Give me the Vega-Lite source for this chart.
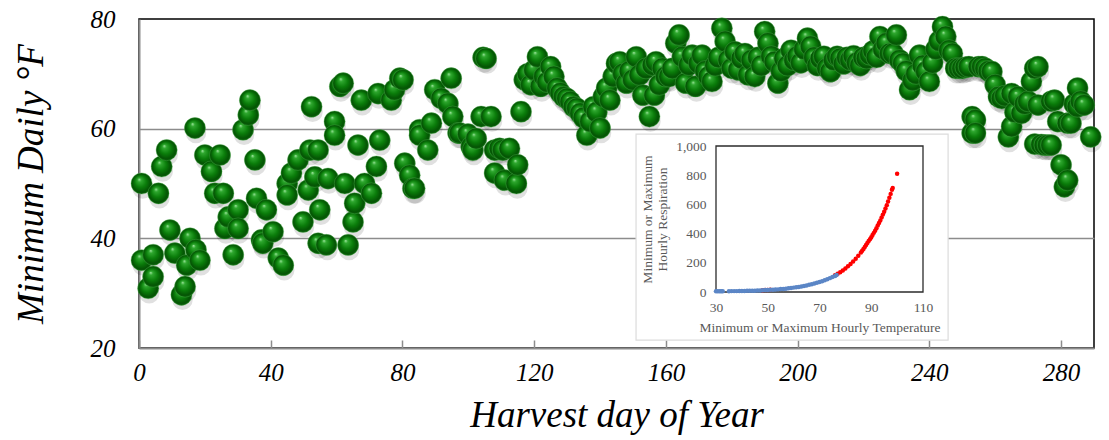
{
  "$schema": "https://vega.github.io/schema/vega-lite/v6.json",
  "width": 955,
  "height": 329,
  "autosize": "none",
  "padding": {"left": 139, "top": 19, "right": 15, "bottom": 92},
  "background": "white",
  "config": {"view": {"stroke": "#000000", "strokeWidth": 1.5}, "font": "Liberation Serif"},
  "datasets": {
    "main": [
      {"day":0.8,"temp":50},{"day":0.8,"temp":36},{"day":2.8,"temp":30.9},{"day":4.3,"temp":37},{"day":4.3,"temp":33},{"day":5.9,"temp":48.2},{"day":6.9,"temp":53.1},{"day":8.4,"temp":56.1},{"day":9.4,"temp":41.5},{"day":10.9,"temp":37.3},{"day":12.9,"temp":29.7},{"day":14,"temp":31.2},{"day":14.5,"temp":35.1},{"day":15.5,"temp":40},{"day":17,"temp":60.1},{"day":17.3,"temp":37.9},{"day":18.5,"temp":36},{"day":20,"temp":55.2},{"day":22,"temp":52.2},{"day":23,"temp":48.2},{"day":24.6,"temp":55.2},{"day":25.6,"temp":48.2},{"day":26.1,"temp":41.8},{"day":27.1,"temp":43.9},{"day":28.6,"temp":37},{"day":30.1,"temp":45.2},{"day":30.1,"temp":41.8},{"day":31.6,"temp":59.8},{"day":33.2,"temp":62.5},{"day":33.7,"temp":65.2},{"day":35.2,"temp":54.3},{"day":35.7,"temp":47.3},{"day":37.2,"temp":39.7},{"day":37.6,"temp":39.1},{"day":38.7,"temp":45.2},{"day":40.7,"temp":41.2},{"day":42.3,"temp":36.4},{"day":43.8,"temp":35.1},{"day":45,"temp":50},{"day":45,"temp":47.9},{"day":46.3,"temp":51.9},{"day":48.3,"temp":54.3},{"day":49.8,"temp":43},{"day":51.4,"temp":48.8},{"day":51.9,"temp":56.1},{"day":52.4,"temp":64},{"day":53.4,"temp":51.2},{"day":54.4,"temp":56.1},{"day":54.4,"temp":39.1},{"day":54.9,"temp":45.2},{"day":56.9,"temp":38.8},{"day":57.4,"temp":50.9},{"day":59.4,"temp":61.3},{"day":59.4,"temp":58.8},{"day":61,"temp":67.7},{"day":62,"temp":68.3},{"day":62.5,"temp":50},{"day":63.5,"temp":38.8},{"day":65,"temp":43},{"day":65.5,"temp":46.4},{"day":66.5,"temp":57},{"day":67.5,"temp":65.2},{"day":68.5,"temp":50},{"day":70.6,"temp":48.2},{"day":72.1,"temp":53.1},{"day":72.6,"temp":66.4},{"day":73.1,"temp":57.9},{"day":76.6,"temp":65.2},{"day":77.6,"temp":67.1},{"day":79.2,"temp":69.2},{"day":80.2,"temp":68.9},{"day":80.7,"temp":53.7},{"day":82.2,"temp":51.5},{"day":83.2,"temp":49.1},{"day":83.7,"temp":49.1},{"day":85.2,"temp":59.8},{"day":85.2,"temp":58.8},{"day":87.7,"temp":56.1},{"day":88.8,"temp":61},{"day":89.8,"temp":67.1},{"day":91.8,"temp":65.5},{"day":93.8,"temp":64.6},{"day":94.8,"temp":69.2},{"day":95.3,"temp":62.2},{"day":96.9,"temp":59.2},{"day":97.4,"temp":59.2},{"day":99.9,"temp":59},{"day":100.9,"temp":56.7},{"day":101.4,"temp":56.1},{"day":102.4,"temp":58.2},{"day":103.9,"temp":62.2},{"day":104.5,"temp":73},{"day":105.4,"temp":72.8},{"day":106.9,"temp":62.2},{"day":108,"temp":56.1},{"day":108,"temp":51.9},{"day":109.5,"temp":56.4},{"day":110.5,"temp":56.1},{"day":111,"temp":50.6},{"day":112.5,"temp":56.4},{"day":114.6,"temp":50},{"day":115,"temp":53.4},
      {"day":116,"temp":63.1},{"day":117,"temp":68.9},{"day":118,"temp":70},{"day":119,"temp":68},{"day":120,"temp":70.7},{"day":121,"temp":73.1},{"day":122,"temp":67.7},{"day":123,"temp":69.5},{"day":124,"temp":68.5},{"day":125,"temp":71.3},{"day":126,"temp":69.5},{"day":127,"temp":67.4},{"day":128,"temp":66.5},{"day":129,"temp":65.8},{"day":130,"temp":65.5},{"day":131,"temp":64.9},{"day":132,"temp":64},{"day":133,"temp":63.7},{"day":134,"temp":62.8},{"day":135,"temp":62},{"day":136,"temp":58.8},{"day":137,"temp":61.3},{"day":138,"temp":64},{"day":139,"temp":63},{"day":140,"temp":60.1},{"day":141,"temp":65.8},{"day":142,"temp":67.4},{"day":143,"temp":65.2},
      {"day":144,"temp":69.5},{"day":145,"temp":71.9},{"day":146,"temp":72.2},{"day":147,"temp":70},{"day":148,"temp":68.3},{"day":149,"temp":70.5},{"day":150,"temp":68.9},{"day":151,"temp":73.1},{"day":152,"temp":69.8},{"day":153,"temp":66.1},{"day":154,"temp":71},{"day":155,"temp":62.2},{"day":156,"temp":71.6},{"day":156.5,"temp":66.1},{"day":157,"temp":72.2},{"day":158,"temp":68},{"day":159,"temp":71},{"day":160,"temp":69.5},{"day":161,"temp":69.5},{"day":162,"temp":71},{"day":163,"temp":75.6},{"day":164,"temp":77.1},{"day":165,"temp":73.1},{"day":166,"temp":68.3},{"day":167,"temp":71.6},{"day":168,"temp":73.4},{"day":169,"temp":67.7},
      {"day":170,"temp":71.9},{"day":171,"temp":73.4},{"day":172,"temp":70.5},{"day":173,"temp":69.5},{"day":174,"temp":68.6},{"day":175,"temp":71.5},{"day":176,"temp":73},{"day":177,"temp":78.3},{"day":178,"temp":75.9},{"day":179,"temp":72.5},{"day":180,"temp":71},{"day":181,"temp":74},{"day":182,"temp":70.7},{"day":183,"temp":72.8},{"day":184,"temp":73.7},{"day":185,"temp":69.8},{"day":186,"temp":72.5},{"day":187,"temp":69.5},{"day":188,"temp":73},{"day":189,"temp":71.5},{"day":190,"temp":77.7},{"day":191,"temp":75.6},{"day":192,"temp":73.2},{"day":193,"temp":72.2},{"day":194,"temp":68.3},{"day":195,"temp":70.5},{"day":196,"temp":72.8},{"day":197,"temp":71.5},{"day":198,"temp":74.3},{"day":199,"temp":72.5},{"day":200,"temp":73.2},{"day":201,"temp":72},{"day":202,"temp":74.5},{"day":203,"temp":76.5},{"day":204,"temp":75},{"day":205,"temp":73},{"day":206,"temp":71.5},{"day":207,"temp":72.8},{"day":208,"temp":73.2},{"day":209,"temp":71},{"day":210,"temp":70.4},{"day":211,"temp":72.5},{"day":212,"temp":73.2},{"day":213,"temp":72.8},{"day":214,"temp":71.8},{"day":215,"temp":73},{"day":216,"temp":72.5},{"day":217,"temp":73.3},{"day":218,"temp":72},{"day":219,"temp":71.5},{"day":220,"temp":73},{"day":221,"temp":72.8},{"day":222,"temp":73.5},{"day":223,"temp":74.2},{"day":224,"temp":73},{"day":225,"temp":76.8},{"day":226,"temp":74.5},{"day":227,"temp":75.6},{"day":228,"temp":73.7},{"day":229,"temp":73.7},{"day":230,"temp":77.1},{"day":231,"temp":72.5},{"day":232,"temp":71.9},{"day":233,"temp":70.5},{"day":234,"temp":67.1},{"day":235,"temp":68.8},{"day":236,"temp":70},{"day":237,"temp":73.4},{"day":238,"temp":71.5},{"day":239,"temp":70.4},{"day":240,"temp":68.6},{"day":241,"temp":72},{"day":242,"temp":74.5},{"day":243,"temp":76},{"day":244,"temp":78.6},{"day":245,"temp":76.8},{"day":246,"temp":74.3},{"day":247,"temp":73.7},{"day":248,"temp":71},{"day":249,"temp":71},{"day":250,"temp":71},{"day":251,"temp":71.2},{"day":252,"temp":71.3},
      {"day":253,"temp":62.2},{"day":253,"temp":59.2},{"day":254,"temp":61.6},{"day":254,"temp":59.2},{"day":255,"temp":71.3},{"day":256,"temp":71.3},{"day":257,"temp":71},{"day":258,"temp":70.5},{"day":259,"temp":70.4},{"day":260,"temp":68},{"day":261,"temp":65.8},{"day":262,"temp":65.5},{"day":263,"temp":66},{"day":264,"temp":58.5},{"day":265,"temp":60.4},{"day":265,"temp":66.4},{"day":266,"temp":63},{"day":267,"temp":65.8},{"day":268,"temp":62.8},{"day":269,"temp":64.5},{"day":270,"temp":65},{"day":271,"temp":68.6},{"day":272,"temp":71},{"day":272,"temp":57.2},{"day":273,"temp":64.3},{"day":273,"temp":71.3},{"day":274,"temp":57.1},{"day":275,"temp":57},{"day":276,"temp":57},{"day":277,"temp":57},{"day":277,"temp":65},{"day":278,"temp":65.2},{"day":279,"temp":61.3},{"day":280,"temp":53.4},{"day":281,"temp":49.4},{"day":282,"temp":50.6},{"day":282,"temp":61},{"day":283,"temp":61},{"day":284,"temp":64.5},{"day":285,"temp":67.4},{"day":285,"temp":64},{"day":286,"temp":65},{"day":287,"temp":64.3},{"day":289,"temp":58.5}
    ],
    "resp": [
      {"temp":48,"resp":12,"kind":"max"},{"temp":49,"resp":13,"kind":"max"},{"temp":50,"resp":14,"kind":"max"},{"temp":51,"resp":15,"kind":"max"},
      {"temp":76,"resp":115,"kind":"max"},{"temp":77,"resp":125,"kind":"max"},{"temp":78,"resp":136,"kind":"max"},{"temp":79,"resp":148,"kind":"max"},{"temp":80,"resp":161,"kind":"max"},{"temp":81,"resp":176,"kind":"max"},{"temp":82,"resp":192,"kind":"max"},{"temp":83,"resp":209,"kind":"max"},{"temp":84,"resp":228,"kind":"max"},{"temp":85,"resp":249,"kind":"max"},{"temp":86,"resp":270,"kind":"max"},{"temp":86.5,"resp":282,"kind":"max"},{"temp":87,"resp":295,"kind":"max"},{"temp":87.5,"resp":308,"kind":"max"},{"temp":88,"resp":322,"kind":"max"},{"temp":88.5,"resp":336,"kind":"max"},{"temp":89,"resp":350,"kind":"max"},{"temp":89.5,"resp":362,"kind":"max"},{"temp":90,"resp":375,"kind":"max"},{"temp":90.5,"resp":390,"kind":"max"},{"temp":91,"resp":405,"kind":"max"},{"temp":91.5,"resp":420,"kind":"max"},{"temp":92,"resp":437,"kind":"max"},{"temp":92.5,"resp":455,"kind":"max"},{"temp":93,"resp":472,"kind":"max"},{"temp":93.5,"resp":490,"kind":"max"},{"temp":94,"resp":510,"kind":"max"},{"temp":94.5,"resp":530,"kind":"max"},{"temp":95,"resp":550,"kind":"max"},{"temp":95.5,"resp":572,"kind":"max"},{"temp":96,"resp":595,"kind":"max"},{"temp":96.5,"resp":620,"kind":"max"},{"temp":97,"resp":645,"kind":"max"},{"temp":97.5,"resp":672,"kind":"max"},{"temp":98,"resp":700,"kind":"max"},{"temp":98.3,"resp":712,"kind":"max"},{"temp":100,"resp":810,"kind":"max"},
      {"temp":30,"resp":5,"kind":"min"},{"temp":30.7,"resp":5,"kind":"min"},{"temp":31.4,"resp":5,"kind":"min"},{"temp":32,"resp":5,"kind":"min"},{"temp":32.6,"resp":5,"kind":"min"},{"temp":35,"resp":5,"kind":"min"},{"temp":36,"resp":6,"kind":"min"},{"temp":37,"resp":6,"kind":"min"},{"temp":38,"resp":6,"kind":"min"},{"temp":39,"resp":7,"kind":"min"},{"temp":40,"resp":7,"kind":"min"},{"temp":41,"resp":7,"kind":"min"},{"temp":42,"resp":8,"kind":"min"},{"temp":43,"resp":8,"kind":"min"},{"temp":44,"resp":9,"kind":"min"},{"temp":45,"resp":9,"kind":"min"},{"temp":46,"resp":10,"kind":"min"},{"temp":47,"resp":11,"kind":"min"},{"temp":48,"resp":12,"kind":"min"},{"temp":49,"resp":13,"kind":"min"},{"temp":50,"resp":14,"kind":"min"},{"temp":51,"resp":15,"kind":"min"},{"temp":52,"resp":16,"kind":"min"},{"temp":53,"resp":17,"kind":"min"},{"temp":54,"resp":18,"kind":"min"},{"temp":55,"resp":20,"kind":"min"},{"temp":56,"resp":21,"kind":"min"},{"temp":57,"resp":23,"kind":"min"},{"temp":58,"resp":25,"kind":"min"},{"temp":59,"resp":27,"kind":"min"},{"temp":60,"resp":30,"kind":"min"},{"temp":61,"resp":32,"kind":"min"},{"temp":62,"resp":35,"kind":"min"},{"temp":63,"resp":38,"kind":"min"},{"temp":64,"resp":41,"kind":"min"},{"temp":65,"resp":45,"kind":"min"},{"temp":66,"resp":49,"kind":"min"},{"temp":67,"resp":53,"kind":"min"},{"temp":68,"resp":58,"kind":"min"},{"temp":69,"resp":63,"kind":"min"},{"temp":70,"resp":68,"kind":"min"},{"temp":71,"resp":74,"kind":"min"},{"temp":72,"resp":80,"kind":"min"},{"temp":73,"resp":87,"kind":"min"},{"temp":74,"resp":95,"kind":"min"},{"temp":75,"resp":103,"kind":"min"},{"temp":76,"resp":110,"kind":"min"},{"temp":76.6,"resp":116,"kind":"min"}
    ]
  },
  "layer": [
    {
      "data": {"name": "main"},
      "layer": [
        {
          "mark": {"type": "circle", "size": 420, "fill": "#000000", "opacity": 0.12, "yOffset": 5, "xOffset": 1},
          "encoding": {
            "x": {"field": "day", "type": "quantitative", "scale": {"domain": [0, 290], "nice": false, "zero": false},
                  "axis": {"title": "Harvest day of Year", "values": [0, 40, 80, 120, 160, 200, 240, 280], "grid": false, "domainColor": "#8c8c8c", "domainWidth": 2, "tickColor": "#8c8c8c", "tickWidth": 1.5, "tickSize": -8, "labelFlush": false, "labelOverlap": false, "labelPadding": 20, "labelFontSize": 25, "labelFontStyle": "italic", "labelColor": "#000000", "titleFontSize": 37, "titleFontStyle": "italic", "titleFontWeight": "normal", "titleColor": "#000000", "titlePadding": 12}},
            "y": {"field": "temp", "type": "quantitative", "scale": {"domain": [20, 80], "nice": false, "zero": false},
                  "axis": {"title": "Minimum Daily °F", "values": [20, 40, 60, 80], "grid": true, "gridColor": "#8c8c8c", "gridWidth": 1.5, "gridOpacity": {"condition": {"test": "datum.value == 20 || datum.value == 80", "value": 0}, "value": 1}, "ticks": false, "domainColor": "#8c8c8c", "domainWidth": 2, "labelPadding": 24, "labelFontSize": 25, "labelFontStyle": "italic", "labelColor": "#000000", "titleFontSize": 37, "titleFontStyle": "italic", "titleFontWeight": "normal", "titleColor": "#000000", "titlePadding": 40}}
          }
        },
        {
          "mark": {"type": "circle", "size": 450, "opacity": 1, "stroke": "#4fae4f", "strokeWidth": 0.6, "strokeOpacity": 0.6,
                   "fill": {"gradient": "radial", "x1": 0.38, "y1": 0.3, "r1": 0, "x2": 0.5, "y2": 0.5, "r2": 0.5,
                            "stops": [{"offset": 0, "color": "#a6eba6"}, {"offset": 0.18, "color": "#2fa82f"}, {"offset": 0.55, "color": "#0a7d0a"}, {"offset": 0.88, "color": "#045204"}, {"offset": 1, "color": "#0e6a0e"}]}},
          "encoding": {
            "x": {"field": "day", "type": "quantitative", "scale": {"domain": [0, 290], "nice": false, "zero": false},
                  "axis": {"title": "Harvest day of Year", "values": [0, 40, 80, 120, 160, 200, 240, 280], "grid": false, "domainColor": "#8c8c8c", "domainWidth": 2, "tickColor": "#8c8c8c", "tickWidth": 1.5, "tickSize": -8, "labelFlush": false, "labelOverlap": false, "labelPadding": 20, "labelFontSize": 25, "labelFontStyle": "italic", "labelColor": "#000000", "titleFontSize": 37, "titleFontStyle": "italic", "titleFontWeight": "normal", "titleColor": "#000000", "titlePadding": 12}},
            "y": {"field": "temp", "type": "quantitative", "scale": {"domain": [20, 80], "nice": false, "zero": false},
                  "axis": {"title": "Minimum Daily °F", "values": [20, 40, 60, 80], "grid": true, "gridColor": "#8c8c8c", "gridWidth": 1.5, "gridOpacity": {"condition": {"test": "datum.value == 20 || datum.value == 80", "value": 0}, "value": 1}, "ticks": false, "domainColor": "#8c8c8c", "domainWidth": 2, "labelPadding": 24, "labelFontSize": 25, "labelFontStyle": "italic", "labelColor": "#000000", "titleFontSize": 37, "titleFontStyle": "italic", "titleFontWeight": "normal", "titleColor": "#000000", "titlePadding": 40}}
          }
        }
      ]
    },
    {
      "layer": [
        {
          "data": {"values": [{}]},
          "mark": {"type": "rect", "fill": "#ffffff", "stroke": "#dcdcdc", "strokeWidth": 1.2, "clip": false},
          "encoding": {
            "x": {"datum": -0.9, "type": "quantitative", "scale": {"domain": [30, 110], "range": [577, 784], "nice": false, "zero": false},
                  "axis": {"title": "Minimum or Maximum Hourly Temperature", "orient": "bottom", "offset": -56, "zindex": 1, "values": [30, 50, 70, 90, 110], "grid": false, "ticks": false, "domain": false, "labelFlush": false, "labelOverlap": false, "labelPadding": 8, "labelFontSize": 13.5, "labelColor": "#595959", "titleFontSize": 13.5, "titleFontWeight": "normal", "titleColor": "#595959", "titlePadding": 7}},
            "x2": {"datum": 119.7},
            "y": {"datum": -329, "type": "quantitative", "scale": {"domain": [0, 1000], "range": [273, 127], "nice": false, "zero": false},
                  "axis": {"title": ["Minimum or Maximum", "Hourly Respiration"], "orient": "left", "offset": -577, "zindex": 1, "values": [0, 200, 400, 600, 800, 1000], "labelExpr": "format(datum.value, ',')", "grid": false, "ticks": false, "domain": false, "labelPadding": 10, "labelFontSize": 13.5, "labelColor": "#595959", "titleFontSize": 13.5, "titleFontWeight": "normal", "titleColor": "#595959", "titleLineHeight": 15, "titlePadding": 6}},
            "y2": {"datum": 1082}
          }
        },
        {
          "data": {"values": [{}]},
          "mark": {"type": "rect", "fill": null, "stroke": "#2b2b2b", "strokeWidth": 1.3, "clip": false},
          "encoding": {
            "x": {"datum": 30, "type": "quantitative", "scale": {"domain": [30, 110], "range": [577, 784], "nice": false, "zero": false},
                  "axis": {"title": "Minimum or Maximum Hourly Temperature", "orient": "bottom", "offset": -56, "zindex": 1, "values": [30, 50, 70, 90, 110], "grid": false, "ticks": false, "domain": false, "labelFlush": false, "labelOverlap": false, "labelPadding": 8, "labelFontSize": 13.5, "labelColor": "#595959", "titleFontSize": 13.5, "titleFontWeight": "normal", "titleColor": "#595959", "titlePadding": 7}},
            "x2": {"datum": 110},
            "y": {"datum": 0, "type": "quantitative", "scale": {"domain": [0, 1000], "range": [273, 127], "nice": false, "zero": false},
                  "axis": {"title": ["Minimum or Maximum", "Hourly Respiration"], "orient": "left", "offset": -577, "zindex": 1, "values": [0, 200, 400, 600, 800, 1000], "labelExpr": "format(datum.value, ',')", "grid": false, "ticks": false, "domain": false, "labelPadding": 10, "labelFontSize": 13.5, "labelColor": "#595959", "titleFontSize": 13.5, "titleFontWeight": "normal", "titleColor": "#595959", "titleLineHeight": 15, "titlePadding": 6}},
            "y2": {"datum": 1000}
          }
        },
        {
          "data": {"name": "resp"},
          "mark": {"type": "circle", "size": 20, "opacity": 1},
          "encoding": {
            "x": {"field": "temp", "type": "quantitative", "scale": {"domain": [30, 110], "range": [577, 784], "nice": false, "zero": false},
                  "axis": {"title": "Minimum or Maximum Hourly Temperature", "orient": "bottom", "offset": -56, "zindex": 1, "values": [30, 50, 70, 90, 110], "grid": false, "ticks": false, "domain": false, "labelFlush": false, "labelOverlap": false, "labelPadding": 8, "labelFontSize": 13.5, "labelColor": "#595959", "titleFontSize": 13.5, "titleFontWeight": "normal", "titleColor": "#595959", "titlePadding": 7}},
            "y": {"field": "resp", "type": "quantitative", "scale": {"domain": [0, 1000], "range": [273, 127], "nice": false, "zero": false},
                  "axis": {"title": ["Minimum or Maximum", "Hourly Respiration"], "orient": "left", "offset": -577, "zindex": 1, "values": [0, 200, 400, 600, 800, 1000], "labelExpr": "format(datum.value, ',')", "grid": false, "ticks": false, "domain": false, "labelPadding": 10, "labelFontSize": 13.5, "labelColor": "#595959", "titleFontSize": 13.5, "titleFontWeight": "normal", "titleColor": "#595959", "titleLineHeight": 15, "titlePadding": 6}},
            "color": {"field": "kind", "type": "nominal", "scale": {"domain": ["max", "min"], "range": ["#ff0000", "#5b86c6"]}, "legend": null}
          }
        }
      ]
    }
  ],
  "resolve": {"scale": {"x": "independent", "y": "independent"}}
}
